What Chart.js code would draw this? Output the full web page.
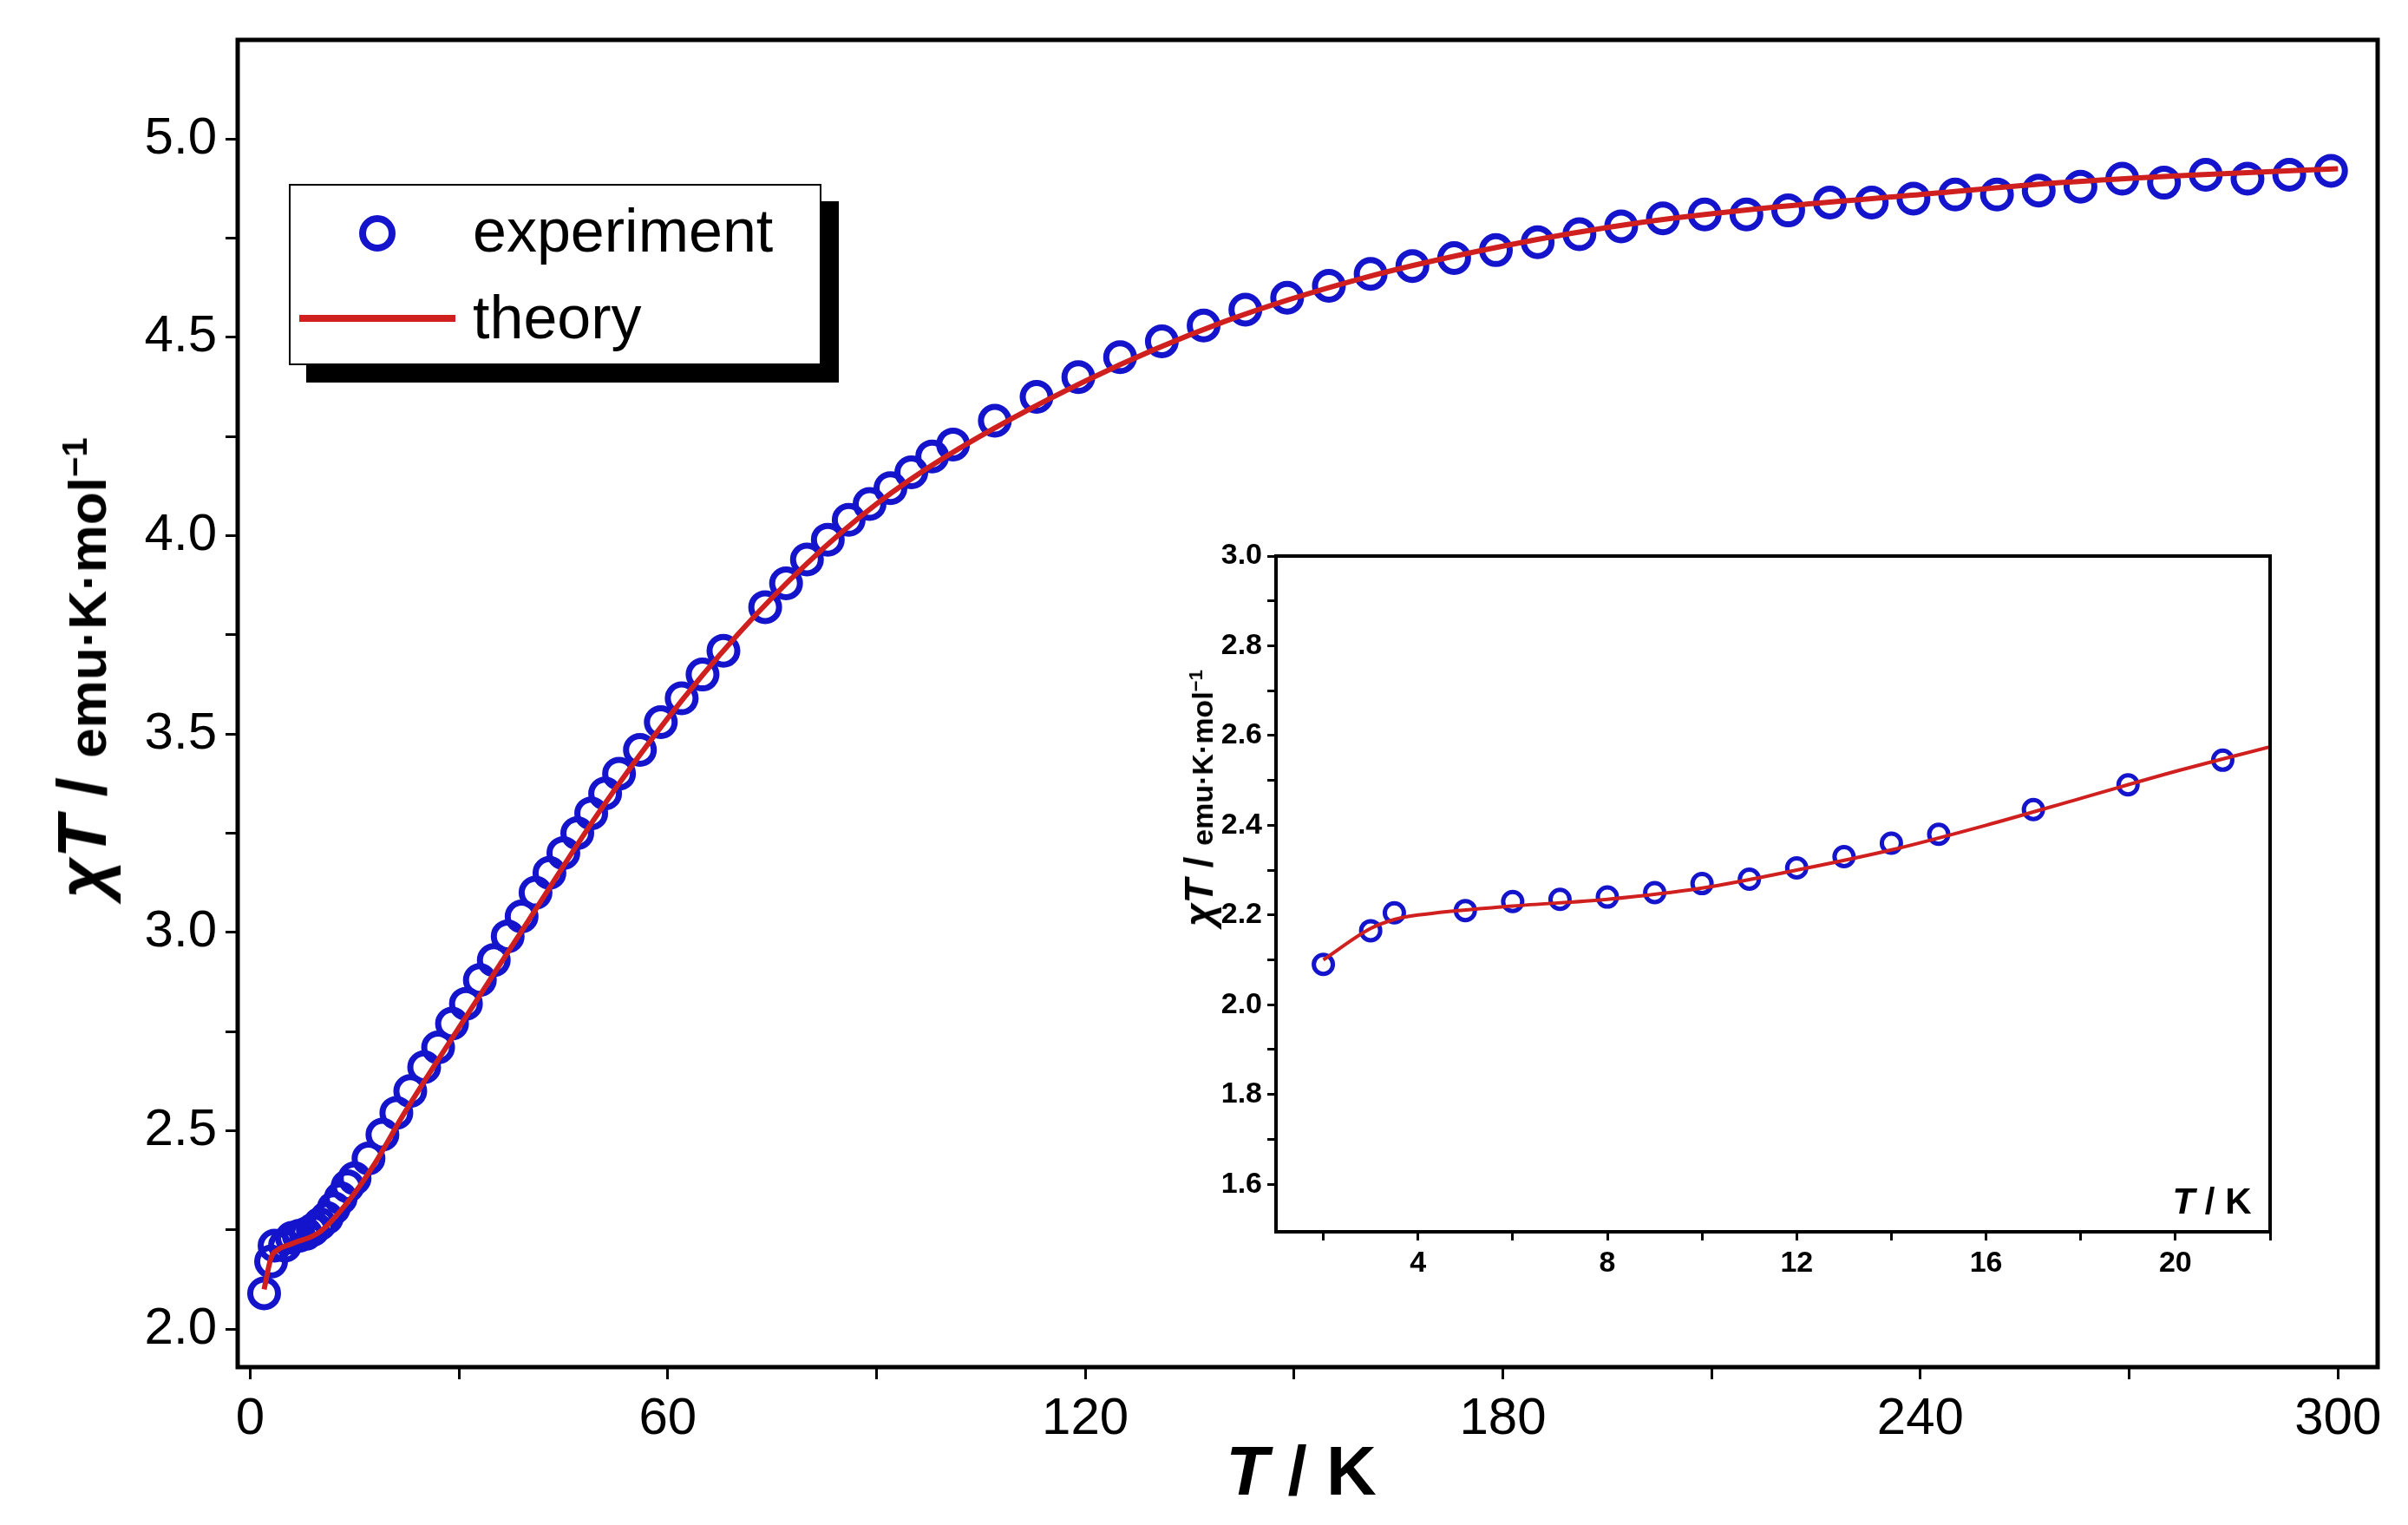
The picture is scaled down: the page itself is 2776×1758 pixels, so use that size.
<!DOCTYPE html>
<html>
<head>
<meta charset="utf-8">
<script src="https://cdn.jsdelivr.net/npm/chart.js@4.4.1/dist/chart.umd.min.js"></script>
<style>
  body { margin: 0; background: #fff; font-family: 'Liberation Sans', Arial, sans-serif; }
  #wrap { position: relative; width: 2776px; height: 1758px; }
  canvas { position: absolute; }
  .lbl { position: absolute; white-space: nowrap; color: #000; }
  .rot { transform: translate(-50%, -50%) rotate(-90deg); }
  .legend { position: absolute; left: 333px; top: 212px; width: 610px; height: 205px; background: #fff;
            border: 2px solid #000; box-shadow: 20px 20px 0 #000; }
  .legend div { position: absolute; font-size: 70px; left: 210px; }
</style>
</head>
<body>
<div id="wrap">
  <canvas id="mainChart" width="2776" height="1758" style="left:0;top:0;width:2776px;height:1758px"></canvas>
  <canvas id="insetChart" width="1340" height="900" style="left:1300px;top:600px;width:1340px;height:900px"></canvas>

  <div class="legend">
    <svg width="610" height="205" style="position:absolute;left:0;top:0">
      <circle cx="100" cy="55" r="17" fill="none" stroke="#1414cc" stroke-width="8"/>
      <line x1="10" y1="153" x2="190" y2="153" stroke="#d01f1f" stroke-width="8"/>
    </svg>
    <div style="top:12px">experiment</div>
    <div style="top:112px">theory</div>
  </div>

  <div class="lbl rot" style="left:95px;top:770px;font-weight:bold;font-size:80px">
    <i>χ</i><i>T</i> / <span style="font-size:62px">emu·K·mol<sup style="font-size:40px">−1</sup></span>
  </div>
  <div class="lbl" style="left:1500px;top:1696px;transform:translate(-50%,-50%);font-weight:bold;font-size:80px">
    <i>T</i> / K
  </div>

  <div class="lbl rot" style="left:1382px;top:920px;font-weight:bold;font-size:46px">
    <i>χ</i><i>T</i> / <span style="font-size:34px">emu·K·mol<sup style="font-size:22px">−1</sup></span>
  </div>
  <div class="lbl" style="left:2550px;top:1385px;transform:translate(-50%,-50%);font-weight:bold;font-size:42px">
    <i>T</i> / K
  </div>
</div>

<script>
// main plot: experiment
const expT = [2, 3, 3.5, 5, 6, 7, 8, 9, 10, 11, 12, 13, 14, 15, 17, 19, 21, 23, 25, 27, 29, 31, 33, 35, 37, 39,
  41, 43, 45, 47, 49, 51, 53, 56, 59, 62, 65, 68, 74, 77, 80, 83, 86, 89, 92, 95, 98, 101, 107, 113, 119,
  125, 131, 137, 143, 149, 155, 161, 167, 173, 179, 185, 191, 197, 203, 209, 215, 221, 227, 233, 239, 245,
  251, 257, 263, 269, 275, 281, 287, 293, 299];
const expChiT = [2.09, 2.17, 2.21, 2.21, 2.23, 2.235, 2.24, 2.25, 2.265, 2.28, 2.305, 2.33, 2.36, 2.38, 2.43,
  2.49, 2.545, 2.60, 2.66, 2.71, 2.77, 2.82, 2.88, 2.93, 2.99, 3.04, 3.10, 3.15, 3.20, 3.25, 3.30, 3.35, 3.40,
  3.46, 3.53, 3.59, 3.65, 3.71, 3.82, 3.88, 3.94, 3.99, 4.04, 4.08, 4.12, 4.16, 4.20, 4.23, 4.29, 4.35, 4.40,
  4.45, 4.49, 4.53, 4.57, 4.60, 4.63, 4.66, 4.68, 4.70, 4.72, 4.74, 4.76, 4.78, 4.80, 4.81, 4.81, 4.82, 4.84,
  4.84, 4.85, 4.86, 4.86, 4.87, 4.88, 4.90, 4.89, 4.91, 4.90, 4.91, 4.92];

// main plot: theory
const thT = [2, 3, 4, 6, 10, 14, 18, 22, 30, 40, 50, 60, 70, 80, 90, 100, 120, 140, 160, 180, 200, 220, 240, 260, 280, 300];
const thChiT = [2.10, 2.18, 2.20, 2.215, 2.245, 2.32, 2.42, 2.54, 2.76, 3.03, 3.30, 3.54, 3.75, 3.93, 4.08, 4.20,
  4.39, 4.54, 4.65, 4.73, 4.79, 4.83, 4.86, 4.89, 4.91, 4.925];

// inset: low temperature
const inExpT = [2, 3, 3.5, 5, 6, 7, 8, 9, 10, 11, 12, 13, 14, 15, 17, 19, 21];
const inExpChiT = [2.09, 2.165, 2.205, 2.21, 2.23, 2.235, 2.24, 2.25, 2.27, 2.28, 2.305, 2.33, 2.36, 2.38, 2.435, 2.49, 2.545];
const inThT = [2, 3, 3.5, 4, 6, 8, 10, 12, 14, 16, 18, 20, 22];
const inThChiT = [2.10, 2.17, 2.19, 2.20, 2.22, 2.235, 2.26, 2.30, 2.345, 2.40, 2.46, 2.52, 2.575];

const mainXTicks = [0, 30, 60, 90, 120, 150, 180, 210, 240, 270, 300];
const mainYTicks = [2.0, 2.25, 2.5, 2.75, 3.0, 3.25, 3.5, 3.75, 4.0, 4.25, 4.5, 4.75, 5.0];
const inXTicks = [2, 4, 6, 8, 10, 12, 14, 16, 18, 20, 22];
const inYTicks = [1.6, 1.7, 1.8, 1.9, 2.0, 2.1, 2.2, 2.3, 2.4, 2.5, 2.6, 2.7, 2.8, 2.9, 3.0];

const blue = '#1414cc';
const red = '#d01f1f';

const frame = {
  id: 'frame',
  beforeDraw(chart) {
    const c = chart.ctx;
    c.save();
    c.fillStyle = '#fff';
    c.fillRect(0, 0, chart.width, chart.height);
    c.restore();
  },
  afterDraw(chart) {
    const a = chart.chartArea, c = chart.ctx;
    c.save();
    c.strokeStyle = '#000';
    c.lineWidth = chart.options.frameWidth || 4;
    c.strokeRect(a.left, a.top, a.right - a.left, a.bottom - a.top);
    c.restore();
  }
};

function pts(xs, ys) { return xs.map((x, i) => ({ x, y: ys[i] })); }

function axis(o) {
  return {
    type: 'linear', min: o.min, max: o.max,
    afterBuildTicks: s => { s.ticks = o.ticks.map(v => ({ value: v })); },
    afterFit: s => { if (o.w) s.width = o.w; if (o.h) s.height = o.h; },
    border: { display: false },
    grid: { drawOnChartArea: false, drawTicks: true, tickLength: o.tl, color: '#000', lineWidth: o.lw },
    ticks: {
      autoSkip: false, maxRotation: 0, color: '#000', padding: o.pad,
      font: { family: "'Liberation Sans', Arial, sans-serif", size: o.fs, weight: o.fw },
      callback: o.cb
    }
  };
}

new Chart(document.getElementById('mainChart'), {
  type: 'scatter',
  data: {
    datasets: [
      { label: 'experiment', data: pts(expT, expChiT), showLine: false, pointStyle: 'circle',
        pointRadius: 16, pointBorderWidth: 7, pointBorderColor: blue, pointBackgroundColor: 'rgba(0,0,0,0)', order: 2 },
      { label: 'theory', data: pts(thT, thChiT), showLine: true, borderColor: red, borderWidth: 6,
        pointRadius: 0, tension: 0.4, cubicInterpolationMode: 'monotone', order: 1 }
    ]
  },
  options: {
    responsive: false, animation: false, devicePixelRatio: 1, frameWidth: 5,
    layout: { padding: { top: 39, right: 35, left: 0, bottom: 0 } },
    plugins: { legend: { display: false }, tooltip: { enabled: false } },
    scales: {
      x: axis({ min: -1.8, max: 305.7, ticks: mainXTicks, h: 182, tl: 14, lw: 3, pad: 10, fs: 60,
        cb: v => v % 60 === 0 ? v : '' }),
      y: axis({ min: 1.904, max: 5.25, ticks: mainYTicks, w: 274, tl: 14, lw: 3, pad: 10, fs: 60,
        cb: v => Math.abs(v * 2 - Math.round(v * 2)) < 1e-6 ? v.toFixed(1) : '' })
    }
  },
  plugins: [frame]
});

new Chart(document.getElementById('insetChart'), {
  type: 'scatter',
  data: {
    datasets: [
      { data: pts(inExpT, inExpChiT), showLine: false, pointStyle: 'circle', pointRadius: 11,
        pointBorderWidth: 5, pointBorderColor: blue, pointBackgroundColor: 'rgba(0,0,0,0)', order: 2 },
      { data: pts(inThT, inThChiT), showLine: true, borderColor: red, borderWidth: 4,
        pointRadius: 0, tension: 0.4, cubicInterpolationMode: 'monotone', order: 1 }
    ]
  },
  options: {
    responsive: false, animation: false, devicePixelRatio: 1, frameWidth: 4,
    layout: { padding: { top: 41, right: 23, left: 0, bottom: 0 } },
    plugins: { legend: { display: false }, tooltip: { enabled: false } },
    scales: {
      x: axis({ min: 1.0, max: 22.0, ticks: inXTicks, h: 80, tl: 10, lw: 3, pad: 6, fs: 34, fw: 'bold',
        cb: v => v % 4 === 0 ? v : '' }),
      y: axis({ min: 1.494, max: 3.0, ticks: inYTicks, w: 171, tl: 10, lw: 3, pad: 6, fs: 34, fw: 'bold',
        cb: v => Math.round(v * 10) % 2 === 0 ? v.toFixed(1) : '' })
    }
  },
  plugins: [frame]
});
</script>
</body>
</html>
